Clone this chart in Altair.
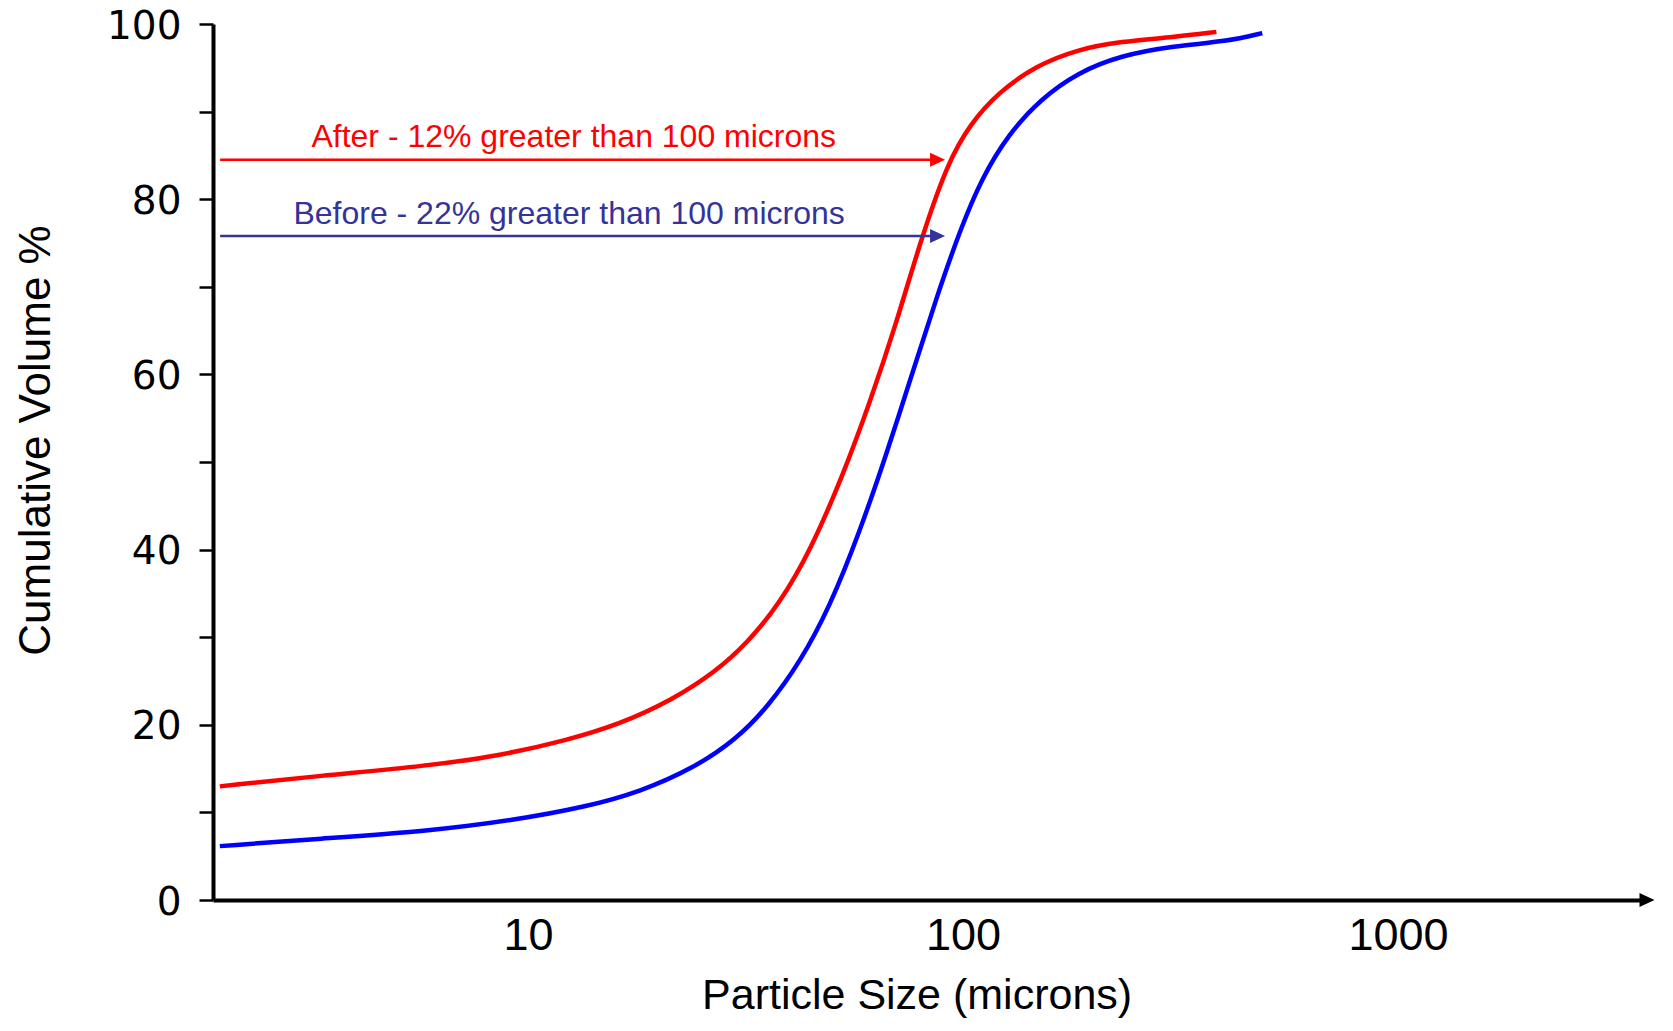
import altair as alt
import pandas as pd

# ---- data ----
red_x = [1.957, 3.33, 5.85, 8.69, 12.20, 16.18, 21.45, 26.90, 31.86, 37.74, 44.71, 52.96,
         60.99, 70.25, 79.55, 92.13, 104.3, 120.1, 146.4, 183.5, 230.1, 305.0, 382.4]
red_y = [12.97, 14.19, 15.29, 16.51, 18.21, 20.03, 22.83, 26.0, 29.3, 33.7, 40.0, 48.5,
         56.7, 65.8, 75.0, 84.2, 88.7, 92.1, 95.2, 97.1, 98.0, 98.5, 99.1]

blue_x = [1.957, 3.33, 5.85, 9.20, 13.66, 18.11, 24.03, 30.10, 35.66, 42.27, 49.48, 57.65,
          66.39, 76.44, 87.06, 98.58, 110.4, 127.1, 150.5, 183.5, 230.1, 305.0, 404.6, 487.5]
blue_y = [6.15, 7.0, 7.85, 9.08, 10.65, 12.36, 15.05, 18.33, 22.1, 27.2, 33.55, 41.8,
          50.6, 60.1, 68.9, 76.55, 82.4, 87.4, 91.4, 94.45, 96.4, 97.5, 98.0, 98.96]

series_names = ["After", "Before"]
series_colors = ["#FF0000", "#0000FF"]

x_tick_values = [10, 100, 1000]
y_tick_values = [0, 10, 20, 30, 40, 50, 60, 70, 80, 90, 100]

annot_texts = ["After - 12% greater than 100 microns", "Before - 22% greater than 100 microns"]
annot_colors = ["#FF0000", "#333399"]
annot_text_x = [12.74, 12.43]
annot_text_y = [87.1, 78.3]
arrow_x_start = [1.96, 1.96]
arrow_x_end = [87.4, 87.4]
arrow_y = [84.5, 75.8]

x_domain = [1.8874, 3735.5]
y_domain = [0, 100]

# ---- tables ----
curves = pd.DataFrame({
    "size": red_x + blue_x,
    "volume": red_y + blue_y,
    "series": ["After"] * len(red_x) + ["Before"] * len(blue_x),
})
arrows = pd.DataFrame({
    "x1": arrow_x_start, "x2": arrow_x_end, "y": arrow_y,
    "color": annot_colors, "text": annot_texts,
    "tx": annot_text_x, "ty": annot_text_y,
})
axis_head = pd.DataFrame({"x": [x_domain[1]], "y": [0]})

xscale = alt.Scale(type="log", domain=x_domain, nice=False)
yscale = alt.Scale(domain=y_domain, nice=False, zero=False)

FONT = "Liberation Sans"

x_axis = alt.Axis(
    values=x_tick_values, format="d", ticks=False, grid=False,
    domainColor="black", domainWidth=4,
    labelFont=FONT, labelFontSize=45, labelColor="black", labelPadding=13,
    labelFlush=False, labelOverlap=False,
    title="Particle Size (microns)", titleFont=FONT, titleFontSize=43,
    titleFontWeight="normal", titleColor="black",
    titleX=703.6, titleY=108, titleAlign="center", titleBaseline="alphabetic",
)
y_axis = alt.Axis(
    values=y_tick_values, labelExpr="datum.value % 20 === 0 ? datum.label : ''",
    grid=False, ticks=True, tickSize=14, tickWidth=2.5, tickColor="black",
    domainColor="black", domainWidth=4,
    labelFont="DejaVu Sans", labelFontSize=39, labelColor="black", labelPadding=18,
    labelOffset=2, labelOverlap=False, labelFlush=False,
    title="Cumulative Volume %", titleFont=FONT, titleFontSize=44,
    titleFontWeight="normal", titleColor="black", titleAngle=270,
    titleX=-176.5, titleY=416, titleAlign="center", titleBaseline="middle",
)

lines = alt.Chart(curves).mark_line(strokeWidth=4.5, interpolate="basis").encode(
    x=alt.X("size:Q", scale=xscale, axis=x_axis),
    y=alt.Y("volume:Q", scale=yscale, axis=y_axis),
    color=alt.Color("series:N", scale=alt.Scale(domain=series_names, range=series_colors), legend=None),
)

arrow_lines = alt.Chart(arrows).mark_rule(strokeWidth=2.5).encode(
    x=alt.X("x1:Q", scale=xscale), x2="x2:Q",
    y=alt.Y("y:Q", scale=yscale),
    color=alt.Color("color:N", scale=None),
)

head_shape = "M-1,-0.93L1,0L-1,0.93Z"
arrow_heads = alt.Chart(arrows).mark_point(shape=head_shape, filled=True, size=225, opacity=1, strokeWidth=0).encode(
    x=alt.X("x2:Q", scale=xscale),
    y=alt.Y("y:Q", scale=yscale),
    color=alt.Color("color:N", scale=None),
)

labels = alt.Chart(arrows).mark_text(font=FONT, fontSize=32, align="center", baseline="middle").encode(
    x=alt.X("tx:Q", scale=xscale),
    y=alt.Y("ty:Q", scale=yscale),
    text="text:N",
    color=alt.Color("color:N", scale=None),
)

x_head = alt.Chart(axis_head).mark_point(shape=head_shape, filled=True, size=225, opacity=1,
                                         strokeWidth=0, color="black").encode(
    x=alt.X("x:Q", scale=xscale),
    y=alt.Y("y:Q", scale=yscale),
)

chart = alt.layer(lines, arrow_lines, arrow_heads, labels, x_head).properties(
    width=1434, height=876,
    padding={"left": 205, "top": 16, "right": 12, "bottom": 118},
    autosize=alt.AutoSizeParams(type="none"),
    background="white",
).configure_view(stroke=None)

chart.save("out.html", embed_options={"renderer": "svg", "actions": False})
